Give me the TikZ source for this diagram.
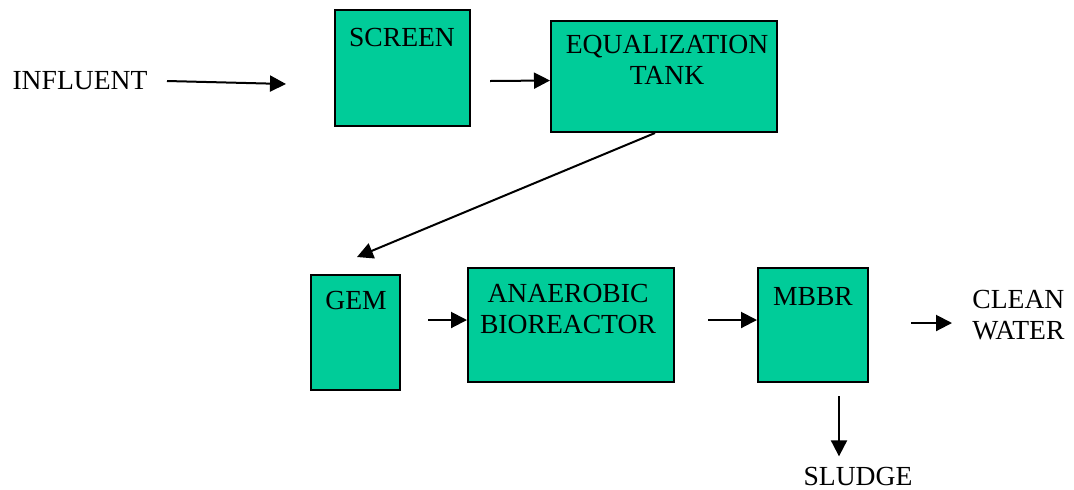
\documentclass[tikz,border=0pt]{standalone}
\usepackage{fontspec}
\setmainfont{Liberation Serif}
\usetikzlibrary{shapes,arrows.meta,positioning,calc,fit}
\definecolor{tankgreen}{HTML}{00CC99}

\begin{document}
\begin{tikzpicture}[x=0.5pt,y=-0.5pt,
    tank/.style={draw, line width=1pt, fill=tankgreen, inner sep=0pt},
    txt/.style={font=\fontsize{13.8}{15.5}\selectfont, inner sep=0pt, align=center},
    flow/.style={-{Triangle[length=8pt,width=8pt]}, line width=1pt}]
    \useasboundingbox (0,0) rectangle (1074,489);

    % Boxes
    \node[tank, fit={(335,10) (470,126)}] (screen) {};
    \node[tank, fit={(551,21) (777,132)}] (eq) {};
    \node[tank, fit={(311,275) (400,390)}] (gem) {};
    \node[tank, fit={(468,268) (674,382)}] (ana) {};
    \node[tank, fit={(758,268) (868,382)}] (mbbr) {};

    % Labels
    \node[txt] (influent) at (80,81) {INFLUENT};
    \node[txt] (screentxt) at (402,37) {SCREEN};
    \node[txt] (eqtxt) at (667,59.5) {EQUALIZATION\\TANK};
    \node[txt] (gemtxt) at (356,300) {GEM};
    \node[txt] (anatxt) at (568,309) {ANAEROBIC\\BIOREACTOR};
    \node[txt] (mbbrtxt) at (813,296) {MBBR};
    \node[txt, align=left, anchor=west] (clean) at (972,315) {CLEAN\\WATER};
    \node[txt] (sludge) at (858,476) {SLUDGE};

    % Arrows
    \coordinate (inA) at (167,81);
    \coordinate (inB) at (286,84);
    \coordinate (gemin) at (357,257);
    \draw[flow] (inA) -- (inB);
    \draw[flow] ([shift={(19,13)}]screen.east) -- ([shift={(0,4)}]eq.west);
    \draw[flow] ([shift={(-9,0)}]eq.south) -- (gemin);
    \draw[flow] ([shift={(27,-12.5)}]gem.east) -- ([shift={(0,-5)}]ana.west);
    \draw[flow] ([shift={(33,-5)}]ana.east) -- ([shift={(0,-5)}]mbbr.west);
    \draw[flow] ([shift={(42,-2)}]mbbr.east) -- ([shift={(-20,8)}]clean.west);
    \draw[flow] ([shift={(26,13)}]mbbr.south) -- ([shift={(-19,-10)}]sludge.north);
\end{tikzpicture}
\end{document}
